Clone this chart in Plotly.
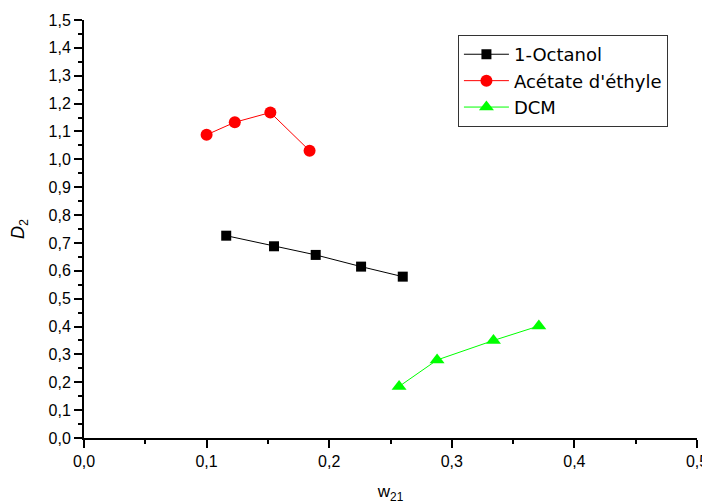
import plotly.graph_objects as go

oct_x = [0.116, 0.155, 0.189, 0.226, 0.260]
oct_y = [0.726, 0.688, 0.657, 0.615, 0.579]
ace_x = [0.100, 0.123, 0.152, 0.184]
ace_y = [1.088, 1.133, 1.168, 1.031]
dcm_x = [0.257, 0.288, 0.334, 0.371]
dcm_y = [0.185, 0.280, 0.350, 0.402]

x_ticks = [0.0, 0.1, 0.2, 0.3, 0.4, 0.5]
x_labels = ["0,0", "0,1", "0,2", "0,3", "0,4", "0,5"]
y_ticks = [round(i * 0.1, 1) for i in range(16)]
y_labels = [f"{v:.1f}".replace(".", ",") for v in y_ticks]

fig = go.Figure()
fig.add_trace(go.Scatter(x=oct_x, y=oct_y, name="1-Octanol", mode="lines+markers",
                         line=dict(color="black", width=1),
                         marker=dict(symbol="square", size=10, color="black")))
fig.add_trace(go.Scatter(x=ace_x, y=ace_y, name="Acétate d'éthyle", mode="lines+markers",
                         line=dict(color="red", width=1),
                         marker=dict(symbol="circle", size=12, color="red")))
fig.add_trace(go.Scatter(x=dcm_x, y=dcm_y, name="DCM", mode="lines+markers",
                         line=dict(color="#00ff00", width=1),
                         marker=dict(symbol="triangle-up", size=13, color="#00ff00")))

axfont = dict(family="Arial, Liberation Sans, sans-serif", size=16, color="black")

fig.update_layout(
    width=702, height=496,
    margin=dict(l=76, r=13, t=12, b=66),
    paper_bgcolor="white", plot_bgcolor="white",
    font=dict(family="Arial, Liberation Sans, sans-serif", color="black"),
    showlegend=True,
    legend=dict(x=0.61, y=0.964, xanchor="left", yanchor="top",
                bordercolor="#333", borderwidth=1, bgcolor="white",
                font=dict(size=18, family="DejaVu Sans, sans-serif"),
                tracegroupgap=0, itemwidth=45),
    xaxis=dict(range=[0, 0.5], tickvals=x_ticks, ticktext=x_labels, automargin=False,
               showgrid=False, zeroline=False, showline=True, linecolor="black", linewidth=2,
               ticks="outside", ticklen=8, tickwidth=2, tickcolor="black",
               minor=dict(dtick=0.05, ticks="outside", ticklen=4, tickwidth=2, tickcolor="black", showgrid=False),
               tickfont=axfont,
               title=dict(text="w<sub>21</sub>", font=dict(size=17), standoff=20)),
    yaxis=dict(range=[0, 1.5], tickvals=y_ticks, ticktext=y_labels, automargin=False,
               showgrid=False, zeroline=False, showline=True, linecolor="black", linewidth=2,
               ticks="outside", ticklen=8, tickwidth=2, tickcolor="black",
               minor=dict(dtick=0.05, ticks="outside", ticklen=4, tickwidth=2, tickcolor="black", showgrid=False),
               tickfont=axfont,
               title=dict(text="<i>D</i><sub>2</sub>", font=dict(size=18), standoff=20)),
    xaxis2=dict(range=[0, 0.5], overlaying="x", side="top", anchor="y", automargin=False,
                showgrid=False, zeroline=False, showline=True, linecolor="black", linewidth=1,
                ticks="outside", ticklen=3, tickwidth=1, tickcolor="black",
                dtick=0.05, tick0=0, showticklabels=False),
    yaxis2=dict(range=[0, 1.5], overlaying="y", side="right", anchor="x", automargin=False,
                showgrid=False, zeroline=False, showline=True, linecolor="black", linewidth=1,
                ticks="outside", ticklen=3, tickwidth=1, tickcolor="black",
                dtick=0.05, tick0=0, showticklabels=False),
)

fig.write_html("out.html")
